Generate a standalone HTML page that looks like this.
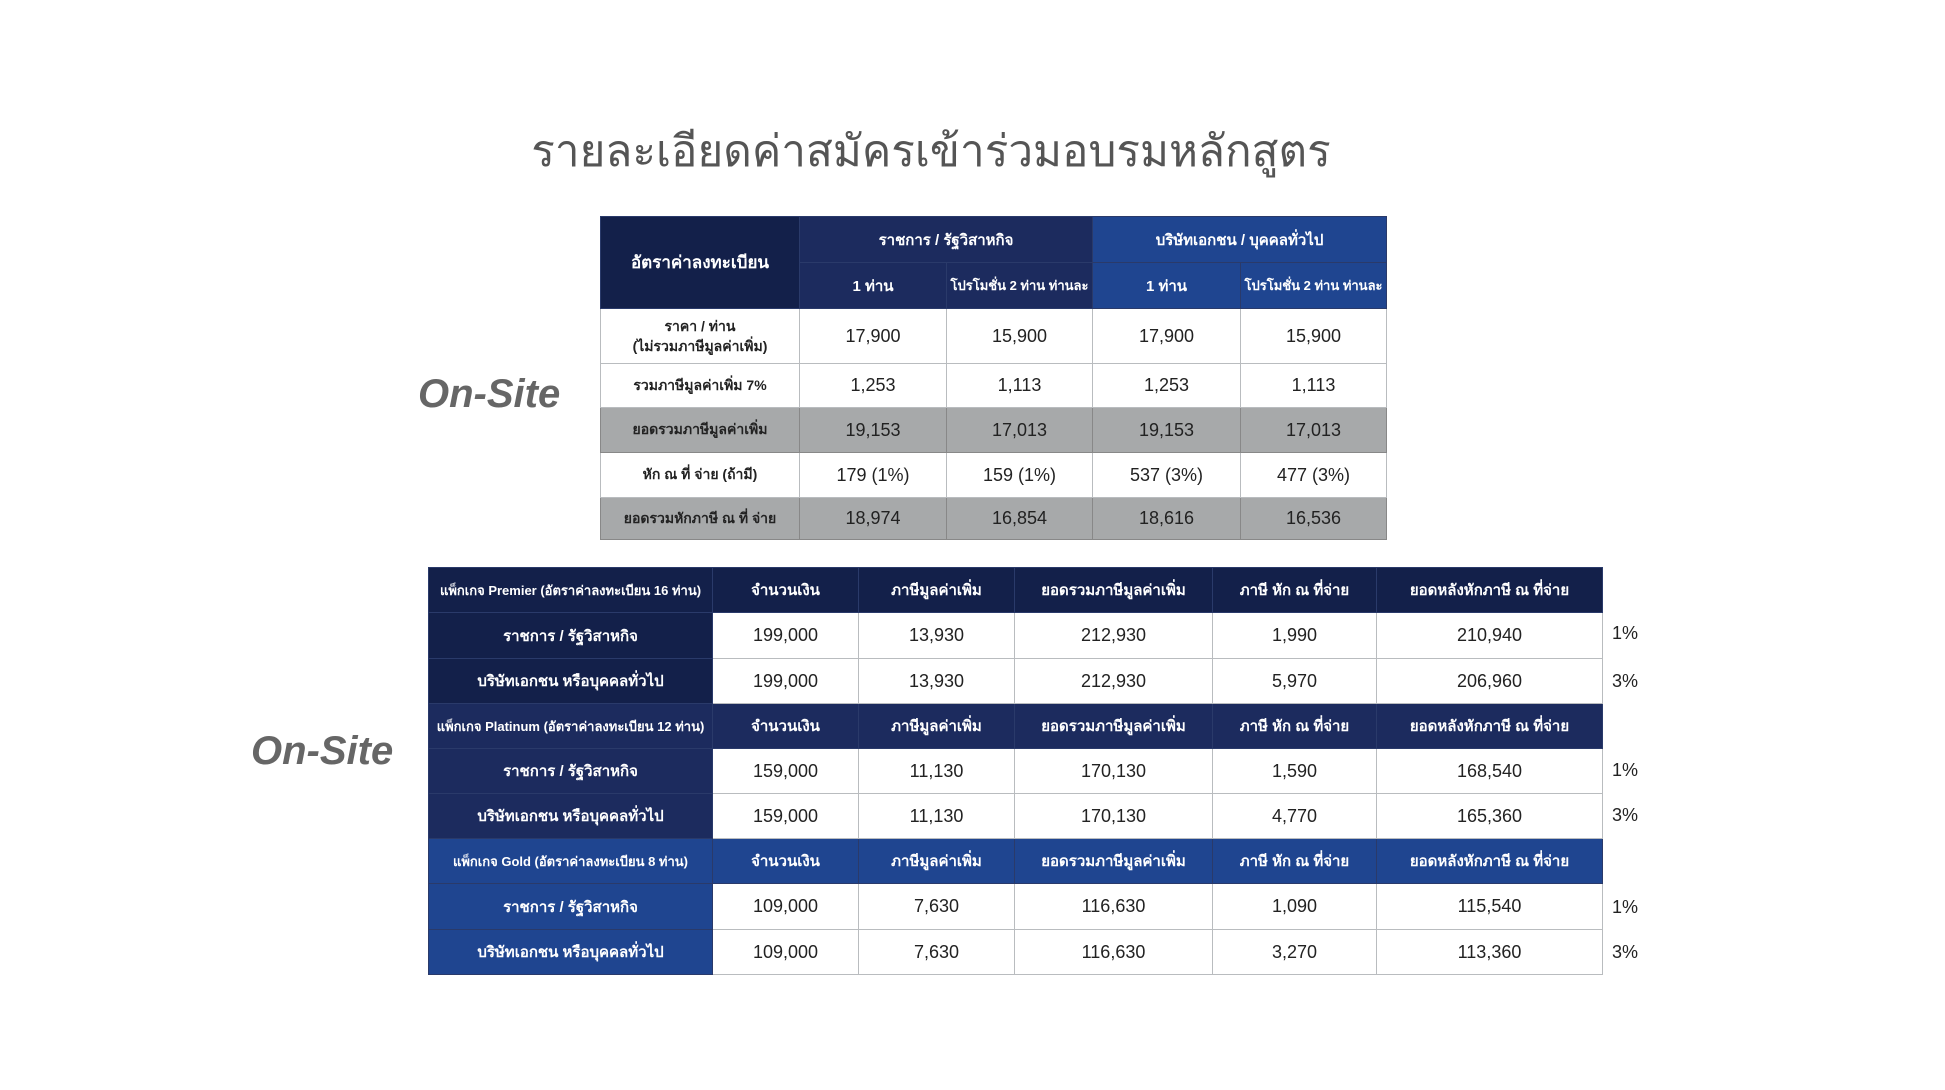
<!DOCTYPE html>
<html><head><meta charset="utf-8"><style>
body{margin:0;width:1945px;height:1090px;background:#fff;position:relative;overflow:hidden;font-family:"Liberation Sans","DejaVu Sans",sans-serif}
.t{position:absolute;text-align:center;white-space:nowrap}
table{position:absolute;border-collapse:collapse;table-layout:fixed}
td{padding:0;text-align:center;white-space:nowrap;overflow:hidden;border:1px solid #b9bcbf;font-size:18px;color:#222}
.h td{color:#fff;font-size:15px;font-weight:bold;border-color:#2a3a6a}
td.d1{background:#13204a;color:#fff;font-weight:bold;font-size:15px;border-color:#2a3a6a}
td.d2{background:#1c2b5e;color:#fff;font-weight:bold;font-size:15px;border-color:#2a3a6a}
td.d3{background:#1f4590;color:#fff;font-weight:bold;font-size:15px;border-color:#2a3a6a}
.g td{background:#a7a9aa;border-color:#888}
td.l{font-size:14px;font-weight:bold}
td.s{font-size:13px}
.on{position:absolute;font-style:italic;font-weight:bold;color:#666;font-size:40px}
.p{position:absolute;font-size:18px;color:#222}
</style></head><body>
<div class="t" style="left:0;width:1862px;top:116px;font-size:44px;color:#555">รายละเอียดค่าสมัครเข้าร่วมอบรมหลักสูตร</div>
<div class="on" style="left:418px;top:372px">On-Site</div>
<div class="on" style="left:251px;top:729px">On-Site</div>

<table style="left:600px;top:216px;width:786px">
<colgroup><col style="width:199px"><col style="width:147px"><col style="width:146px"><col style="width:148px"><col style="width:146px"></colgroup>
<tr class="h" style="height:46px"><td class="d1" rowspan="2" style="font-size:17px">อัตราค่าลงทะเบียน</td><td class="d2" colspan="2">ราชการ / รัฐวิสาหกิจ</td><td class="d3" colspan="2">บริษัทเอกชน / บุคคลทั่วไป</td></tr>
<tr class="h" style="height:46px"><td class="d2">1 ท่าน</td><td class="d2 s">โปรโมชั่น 2 ท่าน ท่านละ</td><td class="d3">1 ท่าน</td><td class="d3 s">โปรโมชั่น 2 ท่าน ท่านละ</td></tr>
<tr style="height:55px"><td class="l" style="line-height:20px">ราคา / ท่าน<br>(ไม่รวมภาษีมูลค่าเพิ่ม)</td><td>17,900</td><td>15,900</td><td>17,900</td><td>15,900</td></tr>
<tr style="height:44px"><td class="l">รวมภาษีมูลค่าเพิ่ม 7%</td><td>1,253</td><td>1,113</td><td>1,253</td><td>1,113</td></tr>
<tr class="g" style="height:45px"><td class="l">ยอดรวมภาษีมูลค่าเพิ่ม</td><td>19,153</td><td>17,013</td><td>19,153</td><td>17,013</td></tr>
<tr style="height:45px"><td class="l">หัก ณ ที่ จ่าย (ถ้ามี)</td><td>179 (1%)</td><td>159 (1%)</td><td>537 (3%)</td><td>477 (3%)</td></tr>
<tr class="g" style="height:42px"><td class="l">ยอดรวมหักภาษี ณ ที่ จ่าย</td><td>18,974</td><td>16,854</td><td>18,616</td><td>16,536</td></tr>
</table>

<table style="left:428px;top:567px;width:1174px">
<colgroup><col style="width:284px"><col style="width:146px"><col style="width:156px"><col style="width:198px"><col style="width:164px"><col style="width:226px"></colgroup>
<tr class="h" style="height:45px"><td class="d1" style="font-size:13px">แพ็กเกจ Premier (อัตราค่าลงทะเบียน 16 ท่าน)</td><td class="d1">จำนวนเงิน</td><td class="d1">ภาษีมูลค่าเพิ่ม</td><td class="d1">ยอดรวมภาษีมูลค่าเพิ่ม</td><td class="d1">ภาษี หัก ณ ที่จ่าย</td><td class="d1">ยอดหลังหักภาษี ณ ที่จ่าย</td></tr>
<tr style="height:46px"><td class="d1">ราชการ / รัฐวิสาหกิจ</td><td>199,000</td><td>13,930</td><td>212,930</td><td>1,990</td><td>210,940</td></tr>
<tr style="height:45px"><td class="d1">บริษัทเอกชน หรือบุคคลทั่วไป</td><td>199,000</td><td>13,930</td><td>212,930</td><td>5,970</td><td>206,960</td></tr>
<tr class="h" style="height:45px"><td class="d2" style="font-size:13px">แพ็กเกจ Platinum (อัตราค่าลงทะเบียน 12 ท่าน)</td><td class="d2">จำนวนเงิน</td><td class="d2">ภาษีมูลค่าเพิ่ม</td><td class="d2">ยอดรวมภาษีมูลค่าเพิ่ม</td><td class="d2">ภาษี หัก ณ ที่จ่าย</td><td class="d2">ยอดหลังหักภาษี ณ ที่จ่าย</td></tr>
<tr style="height:45px"><td class="d2">ราชการ / รัฐวิสาหกิจ</td><td>159,000</td><td>11,130</td><td>170,130</td><td>1,590</td><td>168,540</td></tr>
<tr style="height:45px"><td class="d2">บริษัทเอกชน หรือบุคคลทั่วไป</td><td>159,000</td><td>11,130</td><td>170,130</td><td>4,770</td><td>165,360</td></tr>
<tr class="h" style="height:45px"><td class="d3" style="font-size:13px">แพ็กเกจ Gold (อัตราค่าลงทะเบียน 8 ท่าน)</td><td class="d3">จำนวนเงิน</td><td class="d3">ภาษีมูลค่าเพิ่ม</td><td class="d3">ยอดรวมภาษีมูลค่าเพิ่ม</td><td class="d3">ภาษี หัก ณ ที่จ่าย</td><td class="d3">ยอดหลังหักภาษี ณ ที่จ่าย</td></tr>
<tr style="height:46px"><td class="d3">ราชการ / รัฐวิสาหกิจ</td><td>109,000</td><td>7,630</td><td>116,630</td><td>1,090</td><td>115,540</td></tr>
<tr style="height:45px"><td class="d3">บริษัทเอกชน หรือบุคคลทั่วไป</td><td>109,000</td><td>7,630</td><td>116,630</td><td>3,270</td><td>113,360</td></tr>
</table>

<div class="p" style="left:1612px;top:623px">1%</div>
<div class="p" style="left:1612px;top:671px">3%</div>
<div class="p" style="left:1612px;top:760px">1%</div>
<div class="p" style="left:1612px;top:805px">3%</div>
<div class="p" style="left:1612px;top:897px">1%</div>
<div class="p" style="left:1612px;top:942px">3%</div>
</body></html>
